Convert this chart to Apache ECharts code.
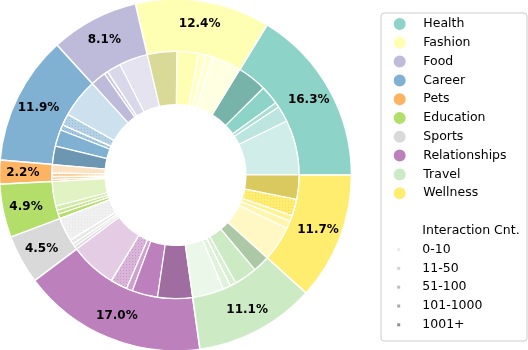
<!DOCTYPE html>
<html>
<head>
<meta charset="utf-8">
<script src="https://cdn.jsdelivr.net/npm/echarts@6/dist/echarts.min.js"></script>
<style>
  html, body { margin: 0; padding: 0; background: #fff; }
  #main { width: 528px; height: 350px; }
</style>
</head>
<body>
<div id="main"></div>
<script>
// outer ring: share of posts per topic (%)
var categories = ['Health', 'Fashion', 'Food', 'Career', 'Pets', 'Education', 'Sports', 'Relationships', 'Travel', 'Wellness'];
var shares = [16.3, 12.4, 8.1, 11.9, 2.2, 4.9, 4.5, 17.0, 11.1, 11.7];
var palette = ['#8dd3c7', '#ffffb3', '#bebada', '#80b1d3', '#fdb462', '#b3de69', '#d9d9d9', '#bc80bd', '#ccebc5', '#ffed6f'];

// inner ring: same topics split by interaction count bin (%)
var bins = ['0-10', '11-50', '51-100', '101-1000', '1001+'];
var healthCnt = [7.2, 2.1, 0.65, 2.5, 3.85];
var fashionCnt = [3.85, 0.95, 0.95, 2.8, 3.85];
var foodCnt = [3.75, 1.85, 0.5, 2.0, 0];
var careerCnt = [5.1, 1.5, 0.7, 2.2, 2.4];
var petsCnt = [1.1, 0.5, 0.35, 0.25, 0];
var educationCnt = [3.2, 0.6, 0.5, 0.6, 0];
var sportsCnt = [3.1, 0.6, 0.4, 0.4, 0];
var relationshipsCnt = [6.1, 2.2, 0.8, 3.35, 4.55];
var travelCnt = [4.1, 1.0, 0.8, 3.0, 2.2];
var wellnessCnt = [4.6, 1.0, 0.75, 2.2, 3.15];
var innerShares = [healthCnt, fashionCnt, foodCnt, careerCnt, petsCnt, educationCnt, sportsCnt, relationshipsCnt, travelCnt, wellnessCnt];

// slices drawn with a dotted texture [topic index, bin index]
var dotted = [[1, 1], [1, 2], [2, 2], [3, 1], [3, 2], [4, 1], [6, 0], [6, 1], [7, 1], [8, 1], [8, 2], [9, 3]];

var binAlpha = [0.4, 0.58, 0.75, 1, 1];
var binDark = [1, 1, 1, 1, 0.85];
var binMarker = ['#ebebeb', '#d4d4d4', '#bdbdbd', '#a9a9a9', '#8f8f8f'];

function shade(hex, a, k) {
    var n = parseInt(hex.slice(1), 16);
    var c = [(n >> 16) & 255, (n >> 8) & 255, n & 255].map(function (v) {
        v = v * k;
        return Math.round(255 - a * (255 - v));
    });
    return 'rgb(' + c.join(',') + ')';
}

function isDotted(i, j) {
    return dotted.some(function (d) { return d[0] === i && d[1] === j; });
}

var innerData = [];
categories.forEach(function (cat, i) {
    innerShares[i].forEach(function (v, j) {
        if (v > 0) {
            var style = {color: shade(palette[i], binAlpha[j], binDark[j])};
            if (isDotted(i, j)) {
                style.decal = {
                    symbol: 'rect',
                    symbolSize: 1,
                    dashArrayX: [1, 2],
                    dashArrayY: [1, 2],
                    color: j === 3 ? shade(palette[i], 1, 0.93) : shade(palette[i], Math.min(1, binAlpha[j] + 0.25), 1)
                };
            }
            innerData.push({name: cat + ' ' + bins[j], value: v, itemStyle: style});
        }
    });
});

var font = 'DejaVu Sans';
var rowH = 18.8;
var textX = 422.3;
var firstRow = 24;

var graphics = [{
    type: 'rect',
    shape: {x: 381, y: 13, width: 146, height: 328, r: 3},
    style: {fill: 'rgba(255,255,255,0.8)', stroke: '#cccccc', lineWidth: 1},
    z: -1
}, {
    type: 'text',
    x: textX,
    y: firstRow + rowH * 11,
    style: {text: 'Interaction Cnt.', font: '12.5px "DejaVu Sans"', fill: '#000', textVerticalAlign: 'middle'}
}];
bins.forEach(function (b, j) {
    var y = firstRow + rowH * (12 + j);
    graphics.push({
        type: 'rect',
        shape: {x: 397.2, y: y - 1.5, width: 3, height: 3},
        style: {fill: binMarker[j]}
    });
    graphics.push({
        type: 'text',
        x: textX,
        y: y,
        style: {text: b, font: '12.5px "DejaVu Sans"', fill: '#000', textVerticalAlign: 'middle'}
    });
});

option = {
    animation: false,
    color: palette,
    legend: {
        data: categories,
        orient: 'vertical',
        left: 391.7,
        top: firstRow - 8,
        padding: 0,
        icon: 'circle',
        itemWidth: 14,
        itemHeight: 14,
        itemGap: rowH - 16,
        textStyle: {
            fontFamily: font,
            fontSize: 12.5,
            color: '#000',
            padding: [0, 0, 0, 11.6]
        }
    },
    graphic: graphics,
    series: [
        {
            name: 'Topic',
            type: 'pie',
            center: [175.5, 175],
            radius: [123.5, 176],
            startAngle: 0,
            clockwise: false,
            avoidLabelOverlap: false,
            silent: true,
            itemStyle: {borderColor: '#fff', borderWidth: 1.5},
            label: {
                position: 'inside',
                fontFamily: font,
                fontSize: 12,
                fontWeight: 'bold',
                color: '#000',
                formatter: function (p) { return p.value.toFixed(1) + '%'; }
            },
            labelLine: {show: false},
            data: categories.map(function (c, i) { return {name: c, value: shares[i]}; })
        },
        {
            name: 'Interaction',
            type: 'pie',
            center: [175.5, 175],
            radius: [70.5, 123.5],
            startAngle: 0,
            clockwise: false,
            silent: true,
            itemStyle: {borderColor: '#fff', borderWidth: 1.2},
            label: {show: false},
            labelLine: {show: false},
            data: innerData
        }
    ]
};
echarts.init(document.getElementById('main')).setOption(option);
</script>
</body>
</html>
